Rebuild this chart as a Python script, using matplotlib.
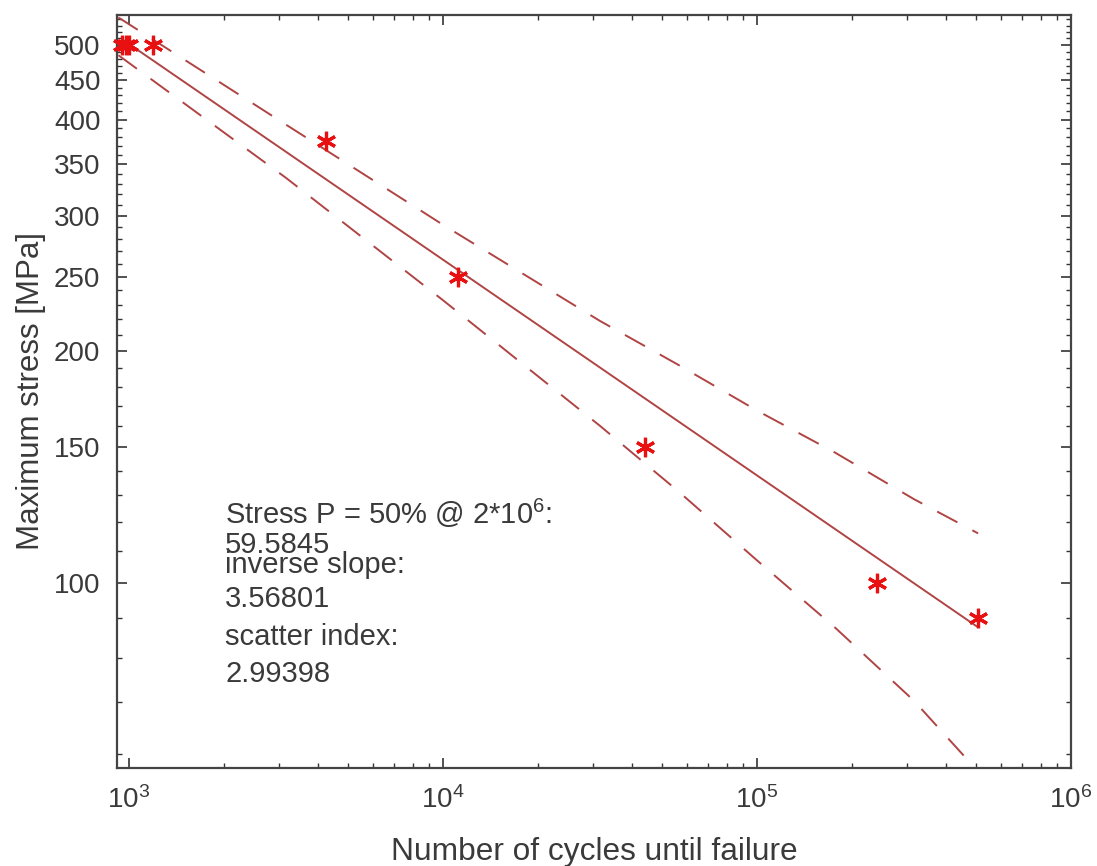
import numpy as np
import matplotlib
matplotlib.use("Agg")
import matplotlib.pyplot as plt
from matplotlib.ticker import (LogLocator, FixedLocator, FixedFormatter,
                               LogFormatterMathtext, NullFormatter)

plt.rcParams['font.family'] = ['Liberation Sans', 'DejaVu Sans']
plt.rcParams['mathtext.fontset'] = 'custom'
plt.rcParams['mathtext.rm'] = 'Liberation Sans'
plt.rcParams['mathtext.it'] = 'Liberation Sans:italic'
plt.rcParams['mathtext.bf'] = 'Liberation Sans:bold'

# Fatigue test results: cycles to failure and maximum stress
cycles = [950, 975, 1000, 1190, 4240, 11170, 43950, 241000, 505000]
stress = [500, 500, 500, 500, 375, 250, 150, 100, 90]

# Fit results (P = 50 %)
stress_50_at_2e6 = 59.5845
inverse_slope = 3.56801
scatter_index = 2.99398

# Scatter band limits
band_cycles = [925, 3162, 10000, 31623, 56234, 100000, 177828, 316228, 506000]
band_upper = [543, 394, 292, 219, 192, 167.5, 147.6, 128.5, 116]
band_lower = [485, 336, 233, 160, 131.5, 107, 87.4, 70.3, 56.9]

y_major = [100, 150, 200, 250, 300, 350, 400, 450, 500]
y_minor = list(range(60, 550, 10))

line_color = '#b04444'
text_color = '#3a3a3a'

fig = plt.figure(figsize=(10.97, 8.66), dpi=100)
ax = fig.add_axes([0.1067, 0.1132, 0.8696, 0.8695])
ax.set_xscale('log')
ax.set_yscale('log')

# Basquin line through the fitted point at 2e6 cycles
n_fit = np.array([min(cycles), max(cycles)])
s_fit = stress_50_at_2e6 * (n_fit / 2e6) ** (-1.0 / inverse_slope)
ax.plot(n_fit, s_fit, color=line_color, lw=1.4, zorder=3)

ax.plot(band_cycles, band_upper, color=line_color, lw=1.4,
        linestyle=(0, (11.8, 8.7)), zorder=3)
ax.plot(band_cycles, band_lower, color=line_color, lw=1.4,
        linestyle=(0, (11.8, 8.7)), zorder=3)

ax.plot(cycles, stress, linestyle='none', marker=(6, 2, 0), markersize=14,
        markeredgewidth=2.3, color='#e81010', clip_on=False, zorder=4)

ax.set_xlim(916, 1e6)
ax.set_ylim(57.5, 547)

ax.xaxis.set_major_locator(LogLocator(base=10, numticks=10))
ax.xaxis.set_minor_locator(LogLocator(base=10, subs=np.arange(2, 10), numticks=20))
ax.xaxis.set_major_formatter(LogFormatterMathtext())
ax.xaxis.set_minor_formatter(NullFormatter())

ax.yaxis.set_major_locator(FixedLocator(y_major))
ax.yaxis.set_minor_locator(FixedLocator([v for v in y_minor if v not in y_major]))
ax.yaxis.set_major_formatter(FixedFormatter([str(v) for v in y_major]))
ax.yaxis.set_minor_formatter(NullFormatter())

ax.tick_params(which='both', direction='in', top=True, right=True,
               colors='#333333', labelcolor=text_color, labelsize=20)
ax.tick_params(which='major', length=7, width=1.2)
ax.tick_params(which='minor', length=3.5, width=1.0)
ax.tick_params(axis='x', which='major', pad=13)
ax.tick_params(axis='y', which='major', pad=12)
for sp in ax.spines.values():
    sp.set_color('#444444')
    sp.set_linewidth(1.6)

ax.set_xlabel('Number of cycles until failure', fontsize=22.8, color=text_color, labelpad=17)
ax.set_ylabel('Maximum stress [MPa]', fontsize=22.5, color=text_color, labelpad=6)

txt_kw = dict(transform=ax.transAxes, fontsize=21, color=text_color,
              ha='left', va='center')
ax.text(0.1132, 0.3386, 'Stress P = 50% @ 2*10$^{6}$:', **txt_kw)
ax.text(0.1132, 0.2960, f'{stress_50_at_2e6:g}', **txt_kw)
ax.text(0.1132, 0.2700, 'inverse slope:', **txt_kw)
ax.text(0.1132, 0.2244, f'{inverse_slope:g}', **txt_kw)
ax.text(0.1132, 0.1740, 'scatter index:', **txt_kw)
ax.text(0.1132, 0.1248, f'{scatter_index:g}', **txt_kw)

fig.savefig('out.png', dpi=100, facecolor='white')
